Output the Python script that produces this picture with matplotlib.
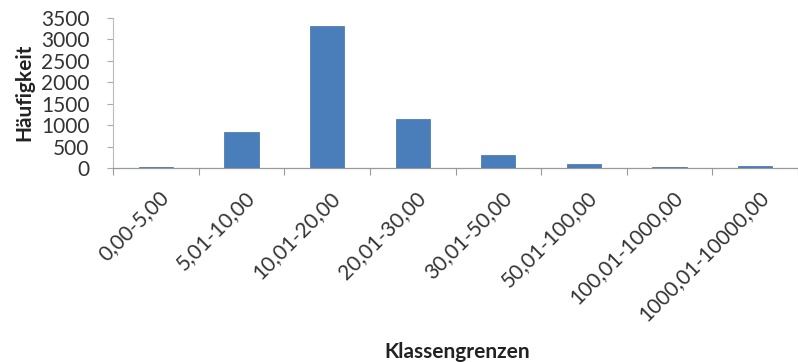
import matplotlib
matplotlib.use("Agg")
import matplotlib.pyplot as plt
import matplotlib.transforms as mtransforms
import numpy as np

categories = ["0,00-5,00", "5,01-10,00", "10,01-20,00", "20,01-30,00",
              "30,01-50,00", "50,01-100,00", "100,01-1000,00", "1000,01-10000,00"]
values = [30, 840, 3310, 1140, 300, 95, 30, 35]
yticks = [0, 500, 1000, 1500, 2000, 2500, 3000, 3500]

plt.rcParams['font.family'] = ['Lato', 'DejaVu Sans']

fig = plt.figure(figsize=(7.98, 3.62), dpi=100)
ax = fig.add_axes([113/798, 1-168/362, 1-113/798, 150/362])

x = np.arange(len(categories))
ax.bar(x, values, width=0.4, color='#4A7EBB', edgecolor='#3F6FA8', linewidth=0.5, zorder=3)

ax.set_xlim(-0.5, len(categories)-0.5)
ax.set_ylim(0, 3500)
ax.set_yticks(yticks)
ax.set_yticklabels([str(v) for v in yticks], fontsize=15, color='#333333')
ax.set_xticks(x)
ax.set_xticklabels(categories, rotation=45, ha='right', va='top', rotation_mode='anchor',
                   fontsize=15, color='#333333')
ax.tick_params(axis='x', length=0, pad=14)
offset = mtransforms.ScaledTranslation(3/100, 0, fig.dpi_scale_trans)
for lab in ax.get_xticklabels():
    lab.set_transform(lab.get_transform() + offset)
ax.set_xticks(np.arange(-0.5, len(categories), 1.0), minor=True)
ax.tick_params(axis='x', which='minor', length=5, color='#999999', width=0.8, direction='out')
ax.tick_params(axis='y', length=4, color='#aaaaaa', width=0.8, pad=13)

for s in ['top', 'right']:
    ax.spines[s].set_visible(False)
ax.spines['left'].set_color('#bbbbbb')
ax.spines['bottom'].set_color('#999999')
ax.spines['left'].set_linewidth(0.8)
ax.spines['bottom'].set_linewidth(0.9)

fig.text(24/798, 1-92/362, "Häufigkeit", fontsize=15, fontweight='bold', rotation=90,
         color='#222222', ha='center', va='center')
fig.text(457/798, 1-352/362, "Klassengrenzen", fontsize=15, fontweight='bold',
         color='#222222', ha='center', va='center')

fig.savefig("out.png", dpi=100)
